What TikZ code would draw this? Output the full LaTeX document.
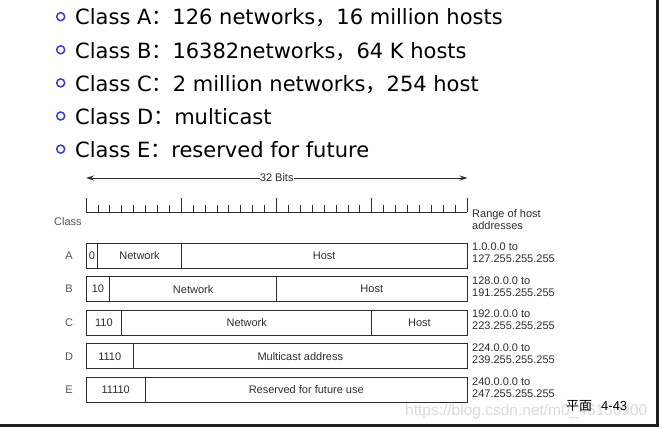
\documentclass[tikz,border=0pt]{standalone}
\usepackage{fontspec}
\setmainfont{Liberation Sans}
\newfontfamily\bulfont{DejaVu Sans}
\newfontfamily\cjk{Noto Sans CJK SC}
\usetikzlibrary{arrows.meta}
\definecolor{bulblue}{RGB}{60,60,200}
\definecolor{ink}{RGB}{45,45,45}
\definecolor{labgray}{RGB}{85,85,85}
\definecolor{wm}{RGB}{218,218,218}
\begin{document}
\begin{tikzpicture}[x=1pt,y=-1pt,
  bulletdot/.style={circle, draw=bulblue, line width=1.5pt, fill=white, minimum size=8pt, inner sep=0pt},
  bultext/.style={anchor=base west, inner sep=0pt, font=\bulfont\fontsize{21}{25}\selectfont},
  labtxt/.style={font=\fontsize{11}{12}\selectfont, text=ink, inner sep=0pt},
  rowlab/.style={font=\fontsize{11}{12}\selectfont, text=labgray, inner sep=0pt},
  rangetxt/.style={font=\fontsize{11}{12}\selectfont, text=ink, inner sep=0pt, anchor=west, align=left},
  fieldbox/.style={draw=ink, line width=0.9pt, minimum height=25pt, inner sep=0pt, outer sep=0pt, anchor=north west, font=\fontsize{11}{12}\selectfont, text=ink},
  rulerline/.style={draw=ink, line width=0.8pt},
  frameline/.style={draw=black!88, line width=2.4pt},
  wmark/.style={font=\fontsize{15.5}{17}\selectfont, text=wm, inner sep=0pt, anchor=west}]
\useasboundingbox (0,0) rectangle (662,430);

% bullet list
\foreach \i/\t in {1/{Class A{\cjk ：}126 networks{\cjk ，}16 million hosts},
                   2/{Class B{\cjk ：}16382networks{\cjk ，}64 K hosts},
                   3/{Class C{\cjk ：}2 million networks{\cjk ，}254 host},
                   4/{Class D{\cjk ：}multicast},
                   5/{Class E{\cjk ：}reserved for future}}{
  \node[bulletdot] (b\i) at (60.7, {25+33.1*(\i-1)-8.3}) {};
  \node[bultext] (t\i) at (75, {25+33.1*(\i-1)}) {\t};
}

% 32 bits arrow
\coordinate (al) at (86,178);
\coordinate (ar) at (467.5,178);
\draw[rulerline, {Stealth[length=8pt,width=5pt]}-{Stealth[length=8pt,width=5pt]}] (al) -- (ar)
  node[midway, fill=white, inner xsep=3pt, inner ysep=1pt, labtxt] (bits) {32 Bits};

% ruler
\coordinate (r0) at (86,212);
\coordinate (r1) at (467,212);
\draw[rulerline] (r0) -- (r1);
\foreach \k in {0,...,32}{
  \draw[rulerline] ({86+11.906*\k},212) -- ({86+11.906*\k},205);
}
\foreach \k in {0,8,16,24,32}{
  \draw[rulerline] ({86+11.906*\k},212) -- ({86+11.906*\k},198);
}
\node[rowlab] (classlab) at (68,222) {Class};
\node[rangetxt] (rangelab) at (472,219.5) {Range of host\\addresses};

% Row A
\node[rowlab] (la) at (69,255.5) {A};
\node[fieldbox, minimum width=11.906pt] (a0) at (86,243) {0};
\node[fieldbox, minimum width=83.34pt] (a1) at (97.91,243) {Network};
\node[fieldbox, minimum width=285.75pt] (a2) at (181.25,243) {Host};
\node[rangetxt] (ra) at (472,253) {1.0.0.0 to\\127.255.255.255};

% Row B
\node[rowlab] (lb) at (69,289.1) {B};
\node[fieldbox, minimum width=23.81pt] (b0) at (86,276.6) {10};
\node[fieldbox, minimum width=166.69pt] (b1f) at (109.81,276.6) {Network};
\node[fieldbox, minimum width=190.5pt] (b2f) at (276.5,276.6) {Host};
\node[rangetxt] (rb) at (472,286.6) {128.0.0.0 to\\191.255.255.255};

% Row C
\node[rowlab] (lc) at (69,322.7) {C};
\node[fieldbox, minimum width=35.72pt] (c0) at (86,310.2) {110};
\node[fieldbox, minimum width=250.02pt] (c1) at (121.72,310.2) {Network};
\node[fieldbox, minimum width=95.26pt] (c2) at (371.74,310.2) {Host};
\node[rangetxt] (rc) at (472,320.2) {192.0.0.0 to\\223.255.255.255};

% Row D
\node[rowlab] (ld) at (69,356.3) {D};
\node[fieldbox, minimum width=47.62pt] (d0) at (86,343.8) {1110};
\node[fieldbox, minimum width=333.38pt] (d1) at (133.62,343.8) {Multicast address};
\node[rangetxt] (rd) at (472,353.8) {224.0.0.0 to\\239.255.255.255};

% Row E
\node[rowlab] (le) at (69,389.9) {E};
\node[fieldbox, minimum width=59.53pt] (e0) at (86,377.4) {11110};
\node[fieldbox, minimum width=321.47pt] (e1) at (145.53,377.4) {Reserved for future use};
\node[rangetxt] (re) at (472,387.4) {240.0.0.0 to\\247.255.255.255};

% watermark and page number
\node[wmark] (wmk) at (405,411) {https://blog.csdn.net/m0\_46156900};
\node[inner sep=0pt, anchor=west, font=\fontsize{13}{14}\selectfont] (page) at (566,406) {{\cjk 平面}\hspace{9pt}4-43};

% frame
\coordinate (fbl) at (0,425.5);
\coordinate (fbr) at (657.5,425.5);
\coordinate (ftr) at (657.5,0);
\draw[frameline] (fbl) -- (fbr) -- (ftr);
\end{tikzpicture}
\end{document}
